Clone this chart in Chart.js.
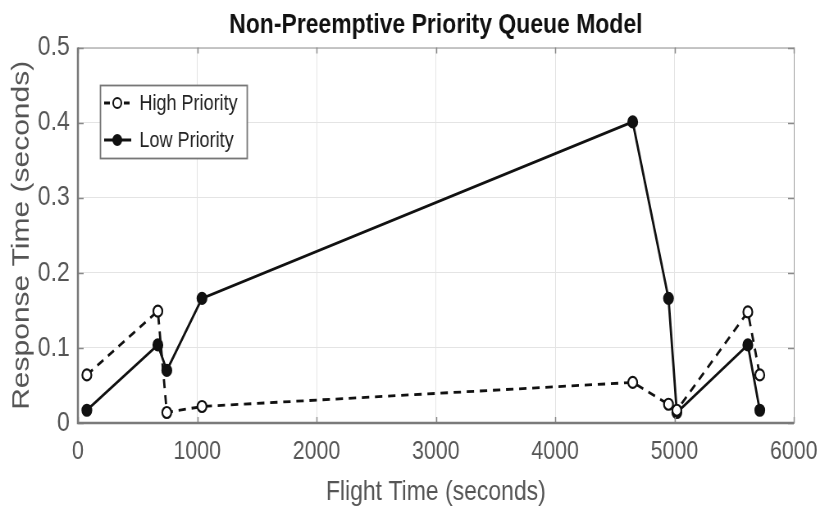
<!DOCTYPE html>
<html>
<head>
<meta charset="utf-8">
<script src="https://cdn.jsdelivr.net/npm/chart.js@4.4.1/dist/chart.umd.min.js"></script>
<style>
  html, body { margin: 0; padding: 0; background: #fff; }
  /* drawn 1000 wide and shown at 820 to get the narrow look of the original */
  #queueChart { display: block; width: 820px; height: 513px; }
</style>
</head>
<body>
<canvas id="queueChart" width="1000" height="513" style="width:820px;height:513px"></canvas>
<script>
// Data
const flightTime = [75, 670, 745, 1040, 4650, 4950, 5020, 5615, 5715];
const highPriority = [0.064, 0.149, 0.014, 0.022, 0.054, 0.025, 0.017, 0.148, 0.064];
const lowPriority = [0.017, 0.104, 0.070, 0.166, 0.401, 0.166, 0.014, 0.104, 0.017];
const xTicks = [0, 1000, 2000, 3000, 4000, 5000, 6000];
const yTicks = [0, 0.1, 0.2, 0.3, 0.4, 0.5];

const FONT = "'Liberation Sans', Arial, sans-serif";

function toPoints(xs, ys) {
    return xs.map(function (x, i) { return { x: x, y: ys[i] }; });
}

// MATLAB-style inward ticks and box
const boxTicks = {
    id: "boxTicks",
    afterDatasetsDraw: function (chart) {
        const ctx = chart.ctx;
        const a = chart.chartArea;
        const xs = chart.scales.x, ys = chart.scales.y;
        ctx.save();
        ctx.strokeStyle = "#9a9a9a";
        ctx.lineWidth = 1;
        ctx.strokeRect(a.left + 0.5, a.top + 0.5, a.right - a.left, a.bottom - a.top);
        ctx.strokeStyle = "#8a8a8a";
        ctx.lineWidth = 1.5;
        ctx.beginPath();
        xTicks.forEach(function (v) {
            const px = Math.round(xs.getPixelForValue(v)) + 0.5;
            ctx.moveTo(px, a.bottom); ctx.lineTo(px, a.bottom - 6);
            ctx.moveTo(px, a.top); ctx.lineTo(px, a.top + 6);
        });
        yTicks.forEach(function (v) {
            const py = Math.round(ys.getPixelForValue(v)) + 0.5;
            ctx.moveTo(a.left, py); ctx.lineTo(a.left + 7, py);
            ctx.moveTo(a.right, py); ctx.lineTo(a.right - 7, py);
        });
        ctx.stroke();
        ctx.strokeStyle = "#7a7a7a";
        ctx.lineWidth = 2.5;
        ctx.beginPath();
        ctx.moveTo(a.left, a.top); ctx.lineTo(a.left, a.bottom); ctx.lineTo(a.right, a.bottom);
        ctx.stroke();
        ctx.restore();
    }
};

// Legend box inside the plot, top-left
const insideLegend = {
    id: "insideLegend",
    afterDraw: function (chart) {
        const ctx = chart.ctx;
        const bx = 122, by = 85, bw = 179, bh = 73;
        ctx.save();
        ctx.fillStyle = "#fff";
        ctx.fillRect(bx, by, bw, bh);
        ctx.strokeStyle = "#777";
        ctx.lineWidth = 1.8;
        ctx.strokeRect(bx + 0.5, by + 0.5, bw, bh);
        chart.data.datasets.forEach(function (ds, i) {
            const cy = by + 18 + i * 37;
            ctx.strokeStyle = "#111";
            ctx.lineWidth = 3;
            ctx.setLineDash(ds.borderDash ? [7, 5] : []);
            ctx.beginPath();
            ctx.moveTo(bx + 5, cy); ctx.lineTo(bx + 38, cy);
            ctx.stroke();
            ctx.setLineDash([]);
            ctx.beginPath();
            ctx.arc(bx + 21, cy, 5, 0, Math.PI * 2);
            ctx.fillStyle = ds.pointBackgroundColor;
            ctx.fill();
            ctx.lineWidth = 2;
            ctx.stroke();
            ctx.fillStyle = "#222";
            ctx.font = "22px " + FONT;
            ctx.textBaseline = "middle";
            ctx.fillText(ds.label, bx + 48, cy + 1);
        });
        ctx.restore();
    }
};

const ctx = document.getElementById("queueChart").getContext("2d");
new Chart(ctx, {
    type: "scatter",
    data: {
        datasets: [
            {
                label: "High Priority",
                data: toPoints(flightTime, highPriority),
                showLine: true,
                borderColor: "#111",
                borderWidth: 2.8,
                borderDash: [9, 7],
                pointRadius: 5.5,
                pointBorderWidth: 2.2,
                pointBackgroundColor: "#fff",
                pointBorderColor: "#111"
            },
            {
                label: "Low Priority",
                data: toPoints(flightTime, lowPriority),
                showLine: true,
                borderColor: "#111",
                borderWidth: 2.8,
                pointRadius: 5.5,
                pointBorderWidth: 2.2,
                pointBackgroundColor: "#111",
                pointBorderColor: "#111"
            }
        ]
    },
    options: {
        responsive: false,
        devicePixelRatio: 1,
        animation: false,
        layout: { padding: { left: 0, right: 32, top: 0, bottom: 0 } },
        plugins: {
            legend: { display: false },
            tooltip: { enabled: false },
            title: {
                display: true,
                fullSize: false,
                text: "Non-Preemptive Priority Queue Model",
                color: "#111",
                font: { family: FONT, size: 28, weight: "bold" },
                padding: { top: 8, bottom: 6 }
            }
        },
        scales: {
            x: {
                type: "linear",
                min: 0,
                max: 6000,
                afterBuildTicks: function (scale) {
                    scale.ticks = xTicks.map(function (v) { return { value: v }; });
                },
                afterFit: function (scale) {
                    scale.height = 90;
                    scale.paddingLeft = 0;
                    scale.paddingRight = 0;
                },
                grid: { color: "#e4e4e4", lineWidth: 1, drawTicks: false },
                border: { display: false },
                ticks: {
                    color: "#555",
                    padding: 13,
                    maxRotation: 0,
                    font: { family: FONT, size: 26 },
                    callback: function (v) { return String(v); }
                },
                title: {
                    display: true,
                    text: "Flight Time (seconds)",
                    color: "#555",
                    font: { family: FONT, size: 28 },
                    padding: { top: 0, bottom: 4 }
                }
            },
            y: {
                type: "linear",
                min: 0,
                max: 0.5,
                afterBuildTicks: function (scale) {
                    scale.ticks = yTicks.map(function (v) { return { value: v }; });
                },
                afterFit: function (scale) {
                    scale.width = 95;
                    scale.paddingTop = 0;
                    scale.paddingBottom = 0;
                },
                grid: { color: "#e4e4e4", lineWidth: 1, drawTicks: false },
                border: { display: false },
                ticks: {
                    color: "#555",
                    padding: 10,
                    font: { family: FONT, size: 28 },
                    callback: function (v) { return String(v); }
                },
                title: {
                    display: true,
                    text: "Response Time (seconds)",
                    color: "#555",
                    font: { family: FONT, size: 30 },
                    padding: { top: 9, bottom: 0 }
                }
            }
        }
    },
    plugins: [boxTicks, insideLegend]
});
</script>
</body>
</html>
